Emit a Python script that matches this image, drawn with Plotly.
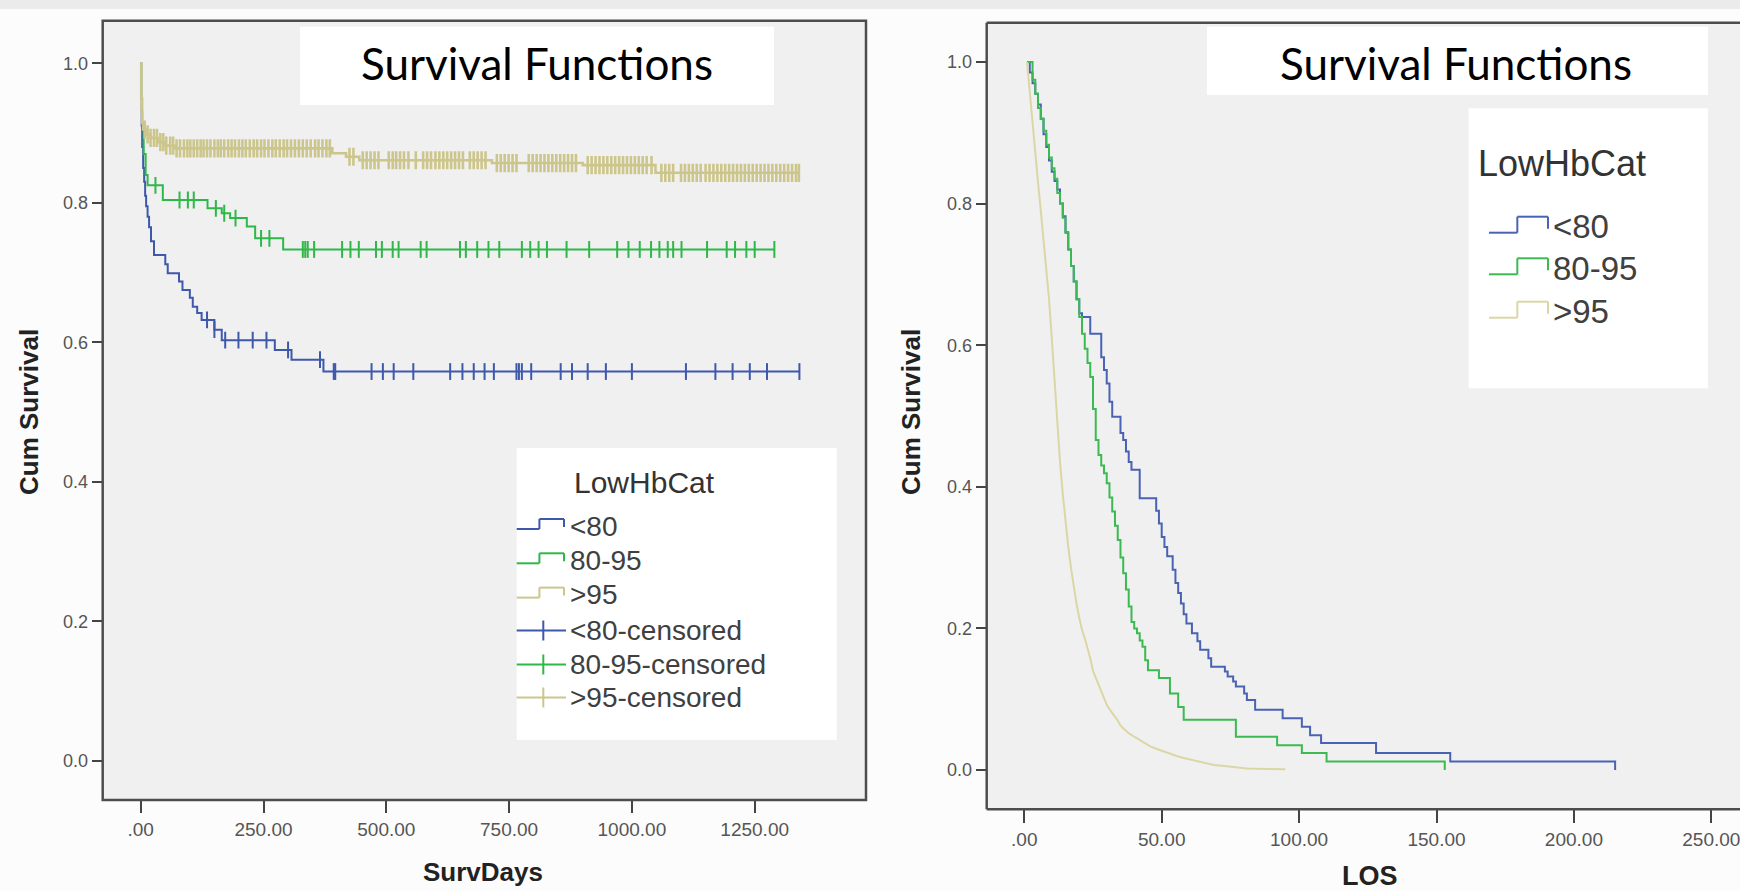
import numpy as np
import plotly.graph_objects as go

# ------------------------------------------------------------------
# DATA
# ------------------------------------------------------------------
group_names = ["<80", "80-95", ">95"]
cens_names = ["<80-censored", "80-95-censored", ">95-censored"]

# Left panel: survival vs SurvDays (Kaplan-Meier events: time, survival after event)
surv_t_lt80 = [1, 2, 3, 5, 7, 9, 11, 14, 17, 21, 27, 50, 55, 78, 85, 100, 106, 115, 124, 150, 165, 273, 307, 372]
surv_s_lt80 = [0.95, 0.91, 0.88, 0.85, 0.83, 0.81, 0.795, 0.78, 0.765, 0.745, 0.725, 0.712, 0.699, 0.687,
               0.675, 0.664, 0.651, 0.642, 0.632, 0.618, 0.603, 0.589, 0.575, 0.558]
surv_c_lt80 = [135, 150, 172, 199, 228, 256, 300, 365, 393, 396, 470, 493, 515, 555, 630, 655, 678, 700,
               719, 765, 770, 776, 795, 855, 878, 910, 947, 1000, 1110, 1170, 1205, 1240, 1275, 1341]

surv_t_8095 = [1, 3, 6, 10, 14, 45, 136, 165, 182, 216, 233, 290]
surv_s_8095 = [0.95, 0.91, 0.87, 0.84, 0.825, 0.804, 0.792, 0.785, 0.778, 0.766, 0.749, 0.733]
surv_c_8095 = [30, 79, 96, 108, 153, 170, 193, 245, 262, 330, 335, 340, 353, 410, 427, 444, 479, 491, 513,
               525, 570, 582, 650, 662, 685, 708, 730, 776, 793, 810, 827, 867, 913, 970, 993, 1016, 1039,
               1056, 1073, 1084, 1101, 1153, 1193, 1210, 1233, 1250, 1290]

surv_t_gt95 = [1, 2, 3, 5, 10, 20, 35, 50, 70, 390, 418, 445, 715, 900, 1048]
surv_s_gt95 = [0.95, 0.93, 0.915, 0.905, 0.898, 0.893, 0.887, 0.882, 0.878, 0.871, 0.866, 0.861, 0.857,
               0.854, 0.843]
surv_c_gt95 = [8, 14, 20, 27, 33, 40, 46, 52, 60, 66, 73, 80, 88, 95, 101, 108, 115, 122, 128, 135, 142,
               150, 157, 163, 170, 178, 185, 192, 200, 207, 214, 222, 230, 237, 245, 252, 260, 268, 275,
               283, 291, 298, 306, 314, 322, 330, 338, 346, 355, 362, 370, 378, 385, 425, 433, 452, 460,
               468, 476, 484, 505, 513, 520, 528, 536, 545, 560, 575, 583, 591, 600, 608, 616, 624, 632,
               640, 648, 656, 670, 678, 686, 694, 702, 725, 733, 741, 749, 757, 765, 790, 798, 806, 814,
               822, 830, 838, 846, 854, 862, 870, 878, 886, 910, 918, 926, 934, 942, 950, 958, 966, 974,
               982, 990, 998, 1006, 1014, 1022, 1030, 1040, 1060, 1068, 1076, 1084, 1100, 1108, 1116,
               1124, 1132, 1140, 1150, 1158, 1166, 1174, 1182, 1190, 1198, 1206, 1214, 1222, 1230, 1238,
               1246, 1254, 1262, 1270, 1278, 1286, 1294, 1302, 1310, 1318, 1326, 1334, 1340]

# Right panel: survival vs LOS
los_start = 1
los_t_lt80 = [2, 3, 4, 5, 6, 7, 8, 9, 10, 11, 12, 13, 14, 15, 16, 17, 18, 19, 20, 21, 24, 28, 29, 30, 31, 32,
              35, 36, 37, 38, 39, 42, 48, 49, 50, 51, 52, 54, 55, 56, 57, 58, 59, 61, 63, 64, 67, 68, 73,
              74, 76, 77, 80, 81, 84, 94, 101, 104, 108, 128, 155, 215]
los_s_lt80 = [0.985, 0.97, 0.955, 0.94, 0.92, 0.898, 0.88, 0.861, 0.845, 0.832, 0.82, 0.80, 0.782, 0.759,
              0.735, 0.712, 0.69, 0.665, 0.645, 0.64, 0.616, 0.583, 0.565, 0.546, 0.52, 0.499, 0.476,
              0.466, 0.45, 0.435, 0.424, 0.384, 0.366, 0.348, 0.329, 0.315, 0.302, 0.283, 0.264, 0.25,
              0.235, 0.22, 0.207, 0.193, 0.182, 0.17, 0.158, 0.146, 0.139, 0.132, 0.125, 0.118, 0.108,
              0.099, 0.085, 0.073, 0.061, 0.049, 0.038, 0.024, 0.012, 0.0]

los_t_8095 = [3, 4, 5, 6, 7, 8, 9, 10, 11, 12, 13, 14, 15, 16, 17, 18, 19, 20, 21, 22, 23, 24, 25, 26, 27,
              28, 29, 30, 31, 32, 33, 34, 35, 36, 37, 38, 39, 40, 41, 42, 43, 44, 45, 49, 53, 56, 58, 77,
              92, 101, 110, 153]
los_s_8095 = [0.975, 0.955, 0.935, 0.92, 0.903, 0.883, 0.865, 0.85, 0.835, 0.815, 0.80, 0.78, 0.76, 0.735,
              0.712, 0.69, 0.665, 0.64, 0.616, 0.595, 0.575, 0.555, 0.51, 0.466, 0.445, 0.43, 0.419,
              0.405, 0.385, 0.365, 0.345, 0.325, 0.30, 0.278, 0.255, 0.231, 0.209, 0.20, 0.193, 0.183,
              0.174, 0.155, 0.141, 0.130, 0.108, 0.089, 0.071, 0.047, 0.035, 0.024, 0.012, 0.0]

los_t_gt95 = [2, 3, 4, 5, 6, 7, 8, 9, 10, 11, 12, 13, 14, 15, 16, 17, 18, 19, 20, 21, 22, 23, 24, 25, 26,
              27, 28, 29, 30, 31, 32, 33, 34, 35, 36, 37, 38, 40, 42, 44, 46, 48, 50, 52, 54, 56, 58, 60,
              62, 64, 66, 69, 72, 76, 81, 88, 95]
los_s_gt95 = [0.955, 0.915, 0.87, 0.83, 0.79, 0.75, 0.71, 0.665, 0.61, 0.55, 0.49, 0.435, 0.39, 0.35,
              0.315, 0.285, 0.258, 0.235, 0.215, 0.198, 0.186, 0.172, 0.158, 0.14, 0.13, 0.12, 0.111,
              0.10, 0.092, 0.086, 0.080, 0.075, 0.070, 0.063, 0.059, 0.055, 0.052, 0.047, 0.042, 0.037,
              0.033, 0.030, 0.027, 0.024, 0.021, 0.019, 0.017, 0.015, 0.013, 0.011, 0.009, 0.007, 0.006,
              0.004, 0.002, 0.0015, 0.001]

surv_ticks = [0, 250, 500, 750, 1000, 1250]
surv_ticktext = [".00", "250.00", "500.00", "750.00", "1000.00", "1250.00"]
los_ticks = [0, 50, 100, 150, 200, 250]
los_ticktext = [".00", "50.00", "100.00", "150.00", "200.00", "250.00"]
y_ticks = [0.0, 0.2, 0.4, 0.6, 0.8, 1.0]
y_ticktext = ["0.0", "0.2", "0.4", "0.6", "0.8", "1.0"]

# ------------------------------------------------------------------
W, H = 1740, 891


def px(x):
    return x / W


def py(y):
    return 1 - y / H


def km_curve(t, s, t0=0.0, t_end=None):
    xs = [t0] + list(t)
    ys = [1.0] + list(s)
    if t_end is not None and t_end > xs[-1]:
        xs.append(t_end)
        ys.append(ys[-1])
    return xs, ys


def km_at(t, s, c):
    t = np.asarray(t, float)
    s = np.asarray(s, float)
    c = np.asarray(c, float)
    idx = np.searchsorted(t, c, side="right") - 1
    return np.where(idx >= 0, s[np.clip(idx, 0, None)], 1.0)


fig = go.Figure()

left_sets = [(surv_t_lt80, surv_s_lt80, surv_c_lt80),
             (surv_t_8095, surv_s_8095, surv_c_8095),
             (surv_t_gt95, surv_s_gt95, surv_c_gt95)]
left_widths = [2, 2, 2.6]
left_cols = ["#3E58AC", "#2EB848", "#CDC68C"]
for i, (t, s, c) in enumerate(left_sets):
    xs, ys = km_curve(t, s, 0.0, max(c))
    fig.add_trace(go.Scatter(x=xs, y=ys, mode="lines", line_shape="hv", name=group_names[i],
                             line=dict(color=left_cols[i], width=left_widths[i]),
                             xaxis="x", yaxis="y", showlegend=False, hoverinfo="skip"))
    fig.add_trace(go.Scatter(x=c, y=km_at(t, s, c), mode="markers", name=cens_names[i],
                             marker=dict(symbol="line-ns", size=12 if i < 2 else 13,
                                         line=dict(color=left_cols[i], width=2 if i < 2 else 2.6)),
                             xaxis="x", yaxis="y", showlegend=False, hoverinfo="skip"))

right_sets = [(los_t_lt80, los_s_lt80, "hv"), (los_t_8095, los_s_8095, "hv"), (los_t_gt95, los_s_gt95, "linear")]
right_cols = ["#4A62B4", "#3BBA52", "#DCD6A6"]
for i, (t, s, shape) in enumerate(right_sets):
    xs, ys = km_curve(t, s, los_start)
    fig.add_trace(go.Scatter(x=xs, y=ys, mode="lines", line_shape=shape, name=group_names[i],
                             line=dict(color=right_cols[i], width=2),
                             xaxis="x2", yaxis="y2", showlegend=False, hoverinfo="skip"))

# ------------------------------------------------------------------
axis_common = dict(showgrid=False, zeroline=False, showline=False, ticks="outside",
                   tickcolor="#444444", tickwidth=2,
                   tickfont=dict(family="Liberation Sans", size=19, color="#555555"))

fig.update_layout(
    width=W, height=H, margin=dict(l=0, r=0, t=0, b=0),
    paper_bgcolor="#fcfcfc", plot_bgcolor="#f0f0f0",
    showlegend=False,
    xaxis=dict(domain=[px(102.7), px(866)], range=[-77.4, 1476.6], tickvals=surv_ticks,
               ticktext=surv_ticktext, ticklen=12, anchor="y", **axis_common),
    yaxis=dict(domain=[py(800), py(20.7)], range=[-0.05635, 1.06108], tickvals=y_ticks,
               ticktext=y_ticktext, ticklen=10, anchor="x", **axis_common),
    xaxis2=dict(domain=[px(986.7), 1.0], range=[-13.68, 260.44], tickvals=los_ticks,
                ticktext=los_ticktext, ticklen=13, anchor="y2", ticklabeloverflow="allow", **axis_common),
    yaxis2=dict(domain=[py(809.3), py(22.7)], range=[-0.0555, 1.0555], tickvals=y_ticks,
                ticktext=y_ticktext, ticklen=10, anchor="x2", **axis_common),
)
fig.update_yaxes(tickfont=dict(size=18))

shapes = []
# top grey strip
shapes.append(dict(type="rect", xref="paper", yref="paper", x0=0, x1=1, y0=py(9), y1=1,
                   fillcolor="#ebebeb", line=dict(width=0), layer="below"))
# frames
frame = dict(color="#4d4d4d", width=2.5)
shapes.append(dict(type="rect", xref="x domain", yref="y domain", x0=0, x1=1, y0=0, y1=1, line=frame))
for (x0, y0, x1, y1) in [(0, 0, 0, 1), (0, 0, 1.01, 0), (0, 1, 1.01, 1)]:
    shapes.append(dict(type="line", xref="x2 domain", yref="y2 domain", x0=x0, y0=y0, x1=x1, y1=y1,
                       line=frame))
# white boxes (titles and legends)
for (x0, y0, x1, y1) in [(300, 26.7, 774, 105), (1207, 26.7, 1708, 95),
                         (516.7, 448, 836.7, 740), (1468.6, 108.3, 1707.9, 388.3)]:
    shapes.append(dict(type="rect", xref="paper", yref="paper", x0=px(x0), x1=px(x1), y0=py(y1), y1=py(y0),
                       fillcolor="#ffffff", line=dict(width=0)))


def step_symbol(xa, xb, c, col, rise, drop, w=2):
    xm = xa + (xb - xa) * 0.48
    pts = [(xa, c + rise[0]), (xm, c + rise[0]), (xm, c - rise[1]), (xb, c - rise[1]), (xb, c + drop)]
    for (p0, p1) in zip(pts[:-1], pts[1:]):
        shapes.append(dict(type="line", xref="paper", yref="paper", x0=px(p0[0]), y0=py(p0[1]),
                           x1=px(p1[0]), y1=py(p1[1]), line=dict(color=col, width=w)))


annotations = []


def text(x, y, s, size, color="#333333", family="Liberation Sans", anchor="left", bold=False, angle=0):
    annotations.append(dict(x=px(x), y=py(y), xref="paper", yref="paper", text=f"<b>{s}</b>" if bold else s,
                            showarrow=False, xanchor=anchor, yanchor="middle", textangle=angle,
                            font=dict(family=family, size=size, color=color)))


# left legend
text(571.7, 482, "LowHbCat", 30, "#333333")
leg_y = [526, 560.3, 594.6, 630.5, 664.5, 697.5]
for i in range(3):
    step_symbol(516.7, 564, leg_y[i], left_cols[i], (3, 7), 1)
    text(568, leg_y[i], group_names[i], 28, "#404040")
for i in range(3):
    c = leg_y[3 + i]
    shapes.append(dict(type="line", xref="paper", yref="paper", x0=px(516.7), x1=px(566), y0=py(c), y1=py(c),
                       line=dict(color=left_cols[i], width=2)))
    shapes.append(dict(type="line", xref="paper", yref="paper", x0=px(543.3), x1=px(543.3), y0=py(c - 10),
                       y1=py(c + 10), line=dict(color=left_cols[i], width=2)))
    text(568, c, cens_names[i], 28, "#404040")

# right legend
text(1476, 163.3, "LowHbCat", 36, "#333333")
rleg_y = [226.7, 268.3, 311.7]
for i in range(3):
    step_symbol(1489, 1548, rleg_y[i], right_cols[i], (6, 10), 2)
    text(1551, rleg_y[i], group_names[i], 33, "#404040")

# titles
text(537, 63, "Survival Functions", 44, "#000000", family="Lato", anchor="center")
text(1456, 63, "Survival Functions", 44, "#000000", family="Lato", anchor="center")

# axis titles
text(29, 412, "Cum Survival", 26, "#222222", anchor="center", bold=True, angle=-90)
text(911, 412, "Cum Survival", 26, "#222222", anchor="center", bold=True, angle=-90)
text(483, 872, "SurvDays", 26, "#222222", anchor="center", bold=True)
text(1370, 876, "LOS", 27, "#222222", anchor="center", bold=True)

fig.update_layout(shapes=shapes, annotations=annotations)
fig.write_html("out.html", config={"displayModeBar": False},
               post_script="document.body.style.margin='0px';document.body.style.overflow='hidden';")
